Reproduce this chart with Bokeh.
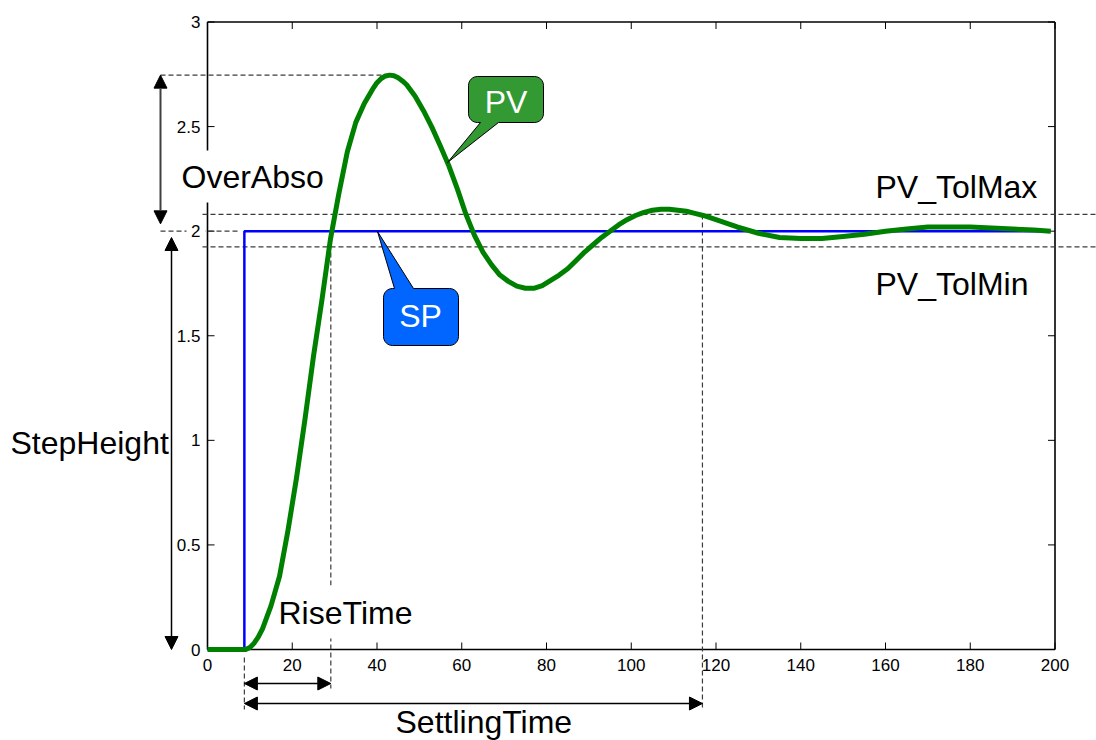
import numpy as np
from bokeh.plotting import figure
from bokeh.models import Range1d, Arrow, NormalHead
from bokeh.core.properties import value
from bokeh.embed import file_html
from bokeh.resources import INLINE

# ---------------- data ----------------
t_pv = [0, 9, 10, 11, 12, 13, 15, 17, 19, 21, 23, 25, 27, 29, 31, 33, 35, 37, 39, 40, 41,
        42, 43, 44, 45, 46, 47, 49, 51, 53, 55, 57, 59, 61, 63, 65, 67, 69, 71, 73, 75, 77,
        79, 81, 83, 85, 87, 89, 91, 93, 95, 97, 99, 101, 103, 105, 107, 109, 111, 113, 115,
        117, 120, 125, 130, 135, 140, 145, 150, 155, 160, 165, 170, 175, 180, 185, 190,
        195, 199]
pv = [0, 0, 0.01, 0.03, 0.06, 0.10, 0.21, 0.35, 0.57, 0.82, 1.10, 1.40, 1.67, 1.96, 2.18,
      2.38, 2.52, 2.61, 2.68, 2.71, 2.73, 2.742, 2.746, 2.743, 2.733, 2.718, 2.70, 2.645,
      2.575, 2.495, 2.405, 2.31, 2.20, 2.08, 1.98, 1.90, 1.84, 1.79, 1.76, 1.737, 1.727,
      1.727, 1.74, 1.765, 1.79, 1.82, 1.86, 1.90, 1.935, 1.97, 2.00, 2.03, 2.055, 2.075,
      2.09, 2.10, 2.105, 2.105, 2.10, 2.095, 2.085, 2.075, 2.055, 2.02, 1.99, 1.97, 1.965,
      1.965, 1.975, 1.985, 2.00, 2.01, 2.02, 2.02, 2.02, 2.015, 2.01, 2.005, 2.0]
t_sp = [0, 8.7, 8.7, 199]
sp = [0, 0, 2, 2]

x_ticks = [0, 20, 40, 60, 80, 100, 120, 140, 160, 180, 200]
x_tick_labels = ["0", "20", "40", "60", "80", "100", "120", "140", "160", "180", "200"]
y_ticks = [0, 0.5, 1, 1.5, 2, 2.5, 3]
y_tick_labels = ["0", "0.5", "1", "1.5", "2", "2.5", "3"]

SP_VALUE = 2.0
TOL_MAX = 2.08
TOL_MIN = 1.925
STEP_TIME = 8.7
RISE_TIME = 29.1
SETTLE_TIME = 116.8
PEAK = 2.746

# ---------------- geometry ----------------
W, H = 1096, 740
OFF = 0                      # picture offset of the canvas
FX0, FX1 = 207.0, 1054.5     # canvas px of x=0 and x=200
FY0, FY1 = 649.0, 21.5       # canvas px (from top) of y=0 and y=3
SX = (FX1 - FX0) / 200.0
SY = (FY0 - FY1) / 3.0
XL, XR = -FX0 / SX, (W - FX0) / SX
YT, YB = FY0 / SY, (FY0 - H) / SY


def X(px):  # reference-image pixel -> data x
    return (px - OFF - FX0) / SX


def Y(py):  # reference-image pixel -> data y
    return (FY0 - (py - OFF)) / SY


p = figure(width=W, height=H, x_range=Range1d(XL, XR), y_range=Range1d(YB, YT),
           output_backend="svg", toolbar_location=None, min_border=0,
           x_axis_location=None, y_axis_location=None, outline_line_color=None,
           background_fill_color="white", border_fill_color="white")
for g in list(p.grid):
    g.visible = False

FONT = value("Liberation Sans")
DASH_C = "#3c3c3c"

# ---- frame and ticks ----
p.segment(x0=[0, 0, 0, 200], y0=[0, 3, 0, 0], x1=[200, 200, 0, 200], y1=[0, 3, 3, 3],
          line_color="black", line_width=1.6)
tl_y = 7 / SY
tl_x = 7 / SX
p.segment(x0=x_ticks, y0=[0] * len(x_ticks), x1=x_ticks, y1=[tl_y] * len(x_ticks),
          line_color="black", line_width=1)
p.segment(x0=x_ticks, y0=[3] * len(x_ticks), x1=x_ticks, y1=[3 - tl_y] * len(x_ticks),
          line_color="black", line_width=1)
p.segment(x0=[0] * len(y_ticks), y0=y_ticks, x1=[tl_x] * len(y_ticks), y1=y_ticks,
          line_color="black", line_width=1)
p.segment(x0=[200] * len(y_ticks), y0=y_ticks, x1=[200 - tl_x] * len(y_ticks), y1=y_ticks,
          line_color="black", line_width=1)

# ---- dashed guide lines ----
dash = dict(line_color=DASH_C, line_width=1.2, line_dash="5 3")
p.segment(x0=[X(160), X(160), X(202), X(202)],
          y0=[PEAK, SP_VALUE, TOL_MAX, TOL_MIN],
          x1=[X(382), X(237), XR, XR],
          y1=[PEAK, SP_VALUE, TOL_MAX, TOL_MIN], **dash)
p.segment(x0=[STEP_TIME, RISE_TIME, SETTLE_TIME],
          y0=[Y(657), Y(252), TOL_MAX],
          x1=[STEP_TIME, RISE_TIME, SETTLE_TIME],
          y1=[Y(709), Y(688), Y(710)], **dash)

# ---- white masks behind labels ----
p.quad(left=[X(176), X(274), X(186)], right=[X(327), X(416), X(205)],
       top=[Y(150), Y(585), Y(221)], bottom=[Y(202), Y(638), Y(238)],
       fill_color="white", line_color=None)

# ---- series ----
p.line(t_sp, sp, line_color="#0000ff", line_width=2.5)
p.line(t_pv, pv, line_color="#008000", line_width=5, line_join="round")

# ---- tick labels ----
p.text(x=[X(200)] * len(y_ticks), y=y_ticks, text=y_tick_labels, text_font=FONT,
       text_font_size="17px", text_align="right", text_baseline="middle", text_color="black")
p.text(x=x_ticks, y=[Y(664)] * len(x_ticks), text=x_tick_labels, text_font=FONT,
       text_font_size="17px", text_align="center", text_baseline="middle", text_color="black")

# ---- annotation texts ----
p.text(x=[X(181), X(10), X(278), X(395), X(875), X(875)],
       y=[Y(176), Y(442), Y(612), Y(721), Y(186), Y(283)],
       text=["OverAbso", "StepHeight", "RiseTime", "SettlingTime", "PV_TolMax", "PV_TolMin"],
       text_font=FONT, text_font_size="32px", text_align="left", text_baseline="middle",
       text_color="black")


# ---- callout bubbles ----
def bubble(x0, y0, x1, y1, r, edge, b0, b1, tip):
    pts = []

    def arc(cx, cy, a0, a1):
        for a in np.linspace(a0, a1, 9):
            pts.append((cx + r * np.cos(a), cy + r * np.sin(a)))

    arc(x0 + r, y0 + r, np.pi, 1.5 * np.pi)
    if edge == "top":
        pts += [(b0, y0), tip, (b1, y0)]
    arc(x1 - r, y0 + r, 1.5 * np.pi, 2 * np.pi)
    arc(x1 - r, y1 - r, 0, 0.5 * np.pi)
    if edge == "bottom":
        pts += [(b1, y1), tip, (b0, y1)]
    arc(x0 + r, y1 - r, 0.5 * np.pi, np.pi)
    return [X(a) for a, _ in pts], [Y(b) for _, b in pts]


bx, by = bubble(468, 76, 543, 122, 9, "bottom", 480, 498, (447, 162))
p.patch(bx, by, fill_color="#339933", line_color="black", line_width=1)
bx, by = bubble(383, 288, 458, 345, 9, "top", 394, 413, (377, 231))
p.patch(bx, by, fill_color="#0066ff", line_color="black", line_width=1)
p.text(x=[X(505.5), X(420)], y=[Y(101), Y(315)], text=["PV", "SP"], text_font=FONT,
       text_font_size="32px", text_align="center", text_baseline="middle", text_color="white")


# ---- arrows ----
def head():
    return NormalHead(size=13, fill_color="black", line_color="black", line_width=1)


p.add_layout(Arrow(start=head(), end=head(), x_start=X(160), y_start=SP_VALUE + 0.035,
                   x_end=X(160), y_end=PEAK, line_color="#404040", line_width=2))
p.add_layout(Arrow(start=head(), end=head(), x_start=X(171), y_start=0,
                   x_end=X(171), y_end=Y(237), line_color="black", line_width=1.5))
p.add_layout(Arrow(start=head(), end=head(), x_start=STEP_TIME, y_start=Y(683),
                   x_end=RISE_TIME, y_end=Y(683), line_color="black", line_width=1.5))
p.add_layout(Arrow(start=head(), end=head(), x_start=STEP_TIME, y_start=Y(703),
                   x_end=SETTLE_TIME, y_end=Y(703), line_color="black", line_width=1.5))

open("out.html", "w").write(file_html(p, INLINE))
